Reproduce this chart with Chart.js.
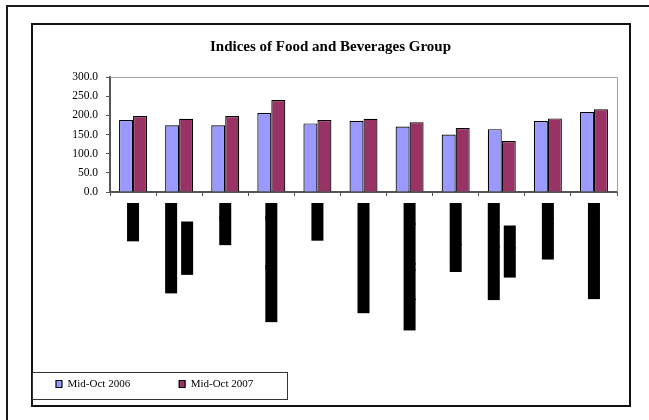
<!DOCTYPE html>
<html>
<head>
<meta charset="utf-8">
<script src="https://cdn.jsdelivr.net/npm/chart.js@4.4.0/dist/chart.umd.min.js"></script>
<style>
body { margin: 0; background: #fff; }
#page { position: relative; width: 649px; height: 420px; overflow: hidden; }
.frame { position: absolute; box-sizing: border-box; }
#outer { left: 6px; top: 5px; width: 700px; height: 500px; border-left: 2px solid #1a1a1a; border-top: 2px solid #1a1a1a; }
#inner { left: 31px; top: 23px; width: 600px; height: 384px; border: 2px solid #111; }
#legendBox { left: 32px; top: 372px; width: 256px; height: 28px; border: 1px solid #333; }
#grafico { position: absolute; left: 0; top: 0; }
</style>
</head>
<body>
<div id="page">
	<div class="frame" id="outer"></div>
	<div class="frame" id="inner"></div>
	<div class="frame" id="legendBox"></div>
	<canvas id="grafico" width="649" height="420" style="width:649px;height:420px"></canvas>
</div>
<script>
var titulo = "Indices of Food and Beverages Group";
var categories = [
	"Noodles",
	["Grains, Cereals and", "Flour Items"],
	"Legumes",
	"Sugar and Sugar Products",
	"Seafood",
	"Milk and Milk Products",
	"Fresh Vegetables and Fruits",
	"Meat and Eggs",
	["Hotel and Restaurant", "Food Items"],
	"Cold Drinks",
	"Alcoholic Beverages"
];
var seriesNames = ["Mid-Oct 2006", "Mid-Oct 2007"];
var midOct2006 = [188, 174, 174, 206, 179, 185, 171, 150, 164, 185, 209];
var midOct2007 = [198, 191, 198, 240, 188, 191, 182, 167, 133, 192, 216];
var yTicks = [0, 50, 100, 150, 200, 250, 300];

var serif = "'Liberation Serif', 'Times New Roman', serif";

// frame of the plot area, title centring and the (blacked out) category labels
var decoracao = {
	id: 'decoracao',
	afterLayout: function(chart){
		var t = chart.titleBlock;
		t.left = 31;
		t.right = 630;
	},
	beforeDatasetsDraw: function(chart){
		var ctx = chart.ctx, a = chart.chartArea;
		ctx.save();
		ctx.strokeStyle = '#a0a0a0';
		ctx.lineWidth = 1;
		ctx.beginPath();
		ctx.moveTo(a.left, a.top + 0.5);
		ctx.lineTo(a.right + 0.5, a.top + 0.5);
		ctx.lineTo(a.right + 0.5, a.bottom);
		ctx.stroke();
		ctx.restore();
	},
	afterDraw: function(chart){
		var ctx = chart.ctx;
		var escala = chart.scales.x;
		ctx.save();
		ctx.font = "11.5px " + serif;
		ctx.fillStyle = '#000';
		ctx.textBaseline = 'middle';
		chart.data.labels.forEach(function(rotulo, i){
			var linhas = Array.isArray(rotulo) ? rotulo : [rotulo];
			var cx = escala.getPixelForTick(i);
			var larguras = linhas.map(function(l){ return ctx.measureText(l).width; });
			var maior = Math.max.apply(null, larguras);
			linhas.forEach(function(linha, j){
				var x = cx + (j - (linhas.length - 1) / 2) * 16;
				var y0 = escala.top + 11 + (maior - larguras[j]) / 2;
				ctx.fillRect(x - 6, y0, 12, larguras[j]);
				ctx.save();
				ctx.translate(x, y0);
				ctx.rotate(Math.PI / 2);
				ctx.fillText(linha, 0, 0);
				ctx.restore();
			});
		});
		ctx.restore();
	}
};

var data = {
	labels: categories,
	datasets: [
		{
			label: seriesNames[0],
			data: midOct2006,
			backgroundColor: "#9999ff",
			borderColor: "#000",
			borderWidth: 1.2,
			categoryPercentage: 0.607,
			barPercentage: 1
		},
		{
			label: seriesNames[1],
			data: midOct2007,
			backgroundColor: "#993366",
			borderColor: "#000",
			borderWidth: 1.2,
			categoryPercentage: 0.607,
			barPercentage: 1
		}
	]
};

var grafico = new Chart(document.getElementById("grafico"), {
	type: 'bar',
	data: data,
	plugins: [decoracao],
	options: {
		responsive: false,
		animation: false,
		layout: { padding: { left: 7, right: 32, top: 0, bottom: 20.5 } },
		plugins: {
			title: {
				display: true,
				text: titulo,
				color: '#000',
				font: { family: serif, size: 15, weight: 'bold' },
				padding: { top: 38, bottom: 21 }
			},
			legend: {
				position: 'bottom',
				align: 'start',
				labels: {
					boxWidth: 6,
					boxHeight: 7,
					padding: 49,
					color: '#000',
					font: { family: serif, size: 11 }
				}
			},
			tooltip: { enabled: false }
		},
		scales: {
			x: {
				grid: { offset: true, drawOnChartArea: false, drawTicks: true, tickLength: 4, color: '#555' },
				border: { color: '#555', width: 2 },
				ticks: { display: false },
				afterFit: function(s){ s.height = 137.5; }
			},
			y: {
				min: 0,
				max: 300,
				afterBuildTicks: function(s){
					s.ticks = yTicks.map(function(v){ return { value: v }; });
				},
				ticks: {
					color: '#000',
					padding: 8,
					font: { family: serif, size: 11.5 },
					callback: function(v){ return Number(v).toFixed(1); }
				},
				grid: { drawOnChartArea: false, tickLength: 4, color: '#555' },
				border: { color: '#555', width: 2 },
				afterFit: function(s){ s.width = 103; }
			}
		}
	}
});
</script>
</body>
</html>
